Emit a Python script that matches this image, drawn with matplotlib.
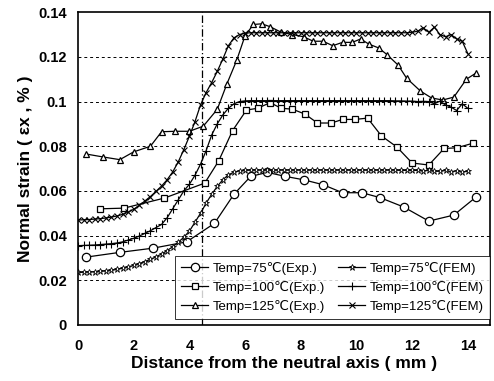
import matplotlib
matplotlib.use("Agg")
import matplotlib.pyplot as plt

plt.rcParams['font.family'] = ['Liberation Sans', 'DejaVu Sans']

# ---------------- data ----------------
x_exp75 = [0.3, 1.5, 2.7, 3.9, 4.9, 5.6, 6.2, 6.8, 7.45, 8.1, 8.8, 9.5, 10.2, 10.85, 11.7, 12.6, 13.5, 14.3]
y_exp75 = [0.0304, 0.0325, 0.0344, 0.0372, 0.0455, 0.0585, 0.0665, 0.0683, 0.0665, 0.0650, 0.0628, 0.0592, 0.0592, 0.0570, 0.0528, 0.0465, 0.0492, 0.0573]

x_exp100 = [0.8, 1.65, 3.1, 4.55, 5.05, 5.55, 6.05, 6.45, 6.9, 7.3, 7.7, 8.15, 8.6, 9.1, 9.5, 9.95, 10.4, 10.9, 11.45, 12.0, 12.6, 13.15, 13.6, 14.2]
y_exp100 = [0.0520, 0.0523, 0.0568, 0.0635, 0.0734, 0.0870, 0.0962, 0.0970, 0.0995, 0.0970, 0.0966, 0.0944, 0.0904, 0.0904, 0.0920, 0.0920, 0.0926, 0.0846, 0.0797, 0.0725, 0.0716, 0.0790, 0.0793, 0.0814]

x_exp125 = [0.3, 0.9, 1.5, 2.0, 2.6, 3.0, 3.5, 4.0, 4.5, 5.0, 5.35, 5.7, 6.0, 6.3, 6.6, 6.9, 7.3, 7.7, 8.1, 8.45, 8.8, 9.15, 9.5, 9.85, 10.15, 10.45, 10.8, 11.1, 11.5, 11.8, 12.3, 12.7, 13.1, 13.5, 13.95, 14.3]
y_exp125 = [0.0765, 0.0752, 0.0740, 0.0775, 0.0800, 0.0865, 0.0867, 0.0867, 0.0890, 0.0965, 0.1080, 0.1185, 0.1295, 0.1345, 0.1348, 0.1335, 0.1310, 0.1300, 0.1290, 0.1270, 0.1270, 0.1250, 0.1265, 0.1265, 0.1280, 0.1257, 0.1240, 0.1210, 0.1163, 0.1105, 0.1047, 0.1016, 0.1007, 0.1020, 0.1100, 0.1128]

x_fem = [0.0, 0.2, 0.4, 0.6, 0.8, 1.0, 1.2, 1.4, 1.6, 1.8,
         2.0, 2.2, 2.4, 2.6, 2.8, 3.0, 3.2, 3.4, 3.6, 3.8,
         4.0, 4.2, 4.4, 4.6, 4.8, 5.0, 5.2, 5.4, 5.6, 5.8,
         6.0, 6.2, 6.4, 6.6, 6.8, 7.0, 7.2, 7.4, 7.6, 7.8,
         8.0, 8.2, 8.4, 8.6, 8.8, 9.0, 9.2, 9.4, 9.6, 9.8,
         10.0, 10.2, 10.4, 10.6, 10.8, 11.0, 11.2, 11.4, 11.6, 11.8,
         12.0, 12.2, 12.4, 12.6, 12.8, 13.0, 13.2, 13.4, 13.6, 13.8,
         14.0]

y_fem75 = [0.0235, 0.0236, 0.0237, 0.0238, 0.0240, 0.0242, 0.0245, 0.0249, 0.0254, 0.0260,
           0.0267, 0.0275, 0.0284, 0.0294, 0.0305, 0.0318, 0.0333, 0.0350, 0.0370, 0.0393,
           0.0420, 0.0460, 0.0500, 0.0545, 0.0585, 0.0620, 0.0650, 0.0672, 0.0684, 0.0690,
           0.0692, 0.0693, 0.0693, 0.0693, 0.0693, 0.0693, 0.0693, 0.0693, 0.0693, 0.0693,
           0.0693, 0.0693, 0.0693, 0.0693, 0.0693, 0.0693, 0.0693, 0.0693, 0.0693, 0.0693,
           0.0693, 0.0693, 0.0693, 0.0693, 0.0693, 0.0693, 0.0693, 0.0693, 0.0692, 0.0692,
           0.0692, 0.0692, 0.0690, 0.0692, 0.0688, 0.0688, 0.0692, 0.0686, 0.0690, 0.0685,
           0.0688]

y_fem100 = [0.0355, 0.0356, 0.0357, 0.0358, 0.0360, 0.0362, 0.0364, 0.0367, 0.0372, 0.0380,
            0.0388, 0.0398, 0.0410, 0.0422, 0.0436, 0.0450, 0.0480, 0.0520, 0.0560, 0.0600,
            0.0630, 0.0670, 0.0720, 0.0780, 0.0850, 0.0900, 0.0940, 0.0970, 0.0990, 0.1000,
            0.1003, 0.1004, 0.1004, 0.1004, 0.1004, 0.1004, 0.1004, 0.1004, 0.1004, 0.1004,
            0.1004, 0.1004, 0.1004, 0.1004, 0.1004, 0.1004, 0.1004, 0.1004, 0.1004, 0.1004,
            0.1004, 0.1004, 0.1004, 0.1004, 0.1004, 0.1004, 0.1004, 0.1003, 0.1003, 0.1002,
            0.1002, 0.1000, 0.1001, 0.1000, 0.0990, 0.1002, 0.0985, 0.0975, 0.0960, 0.0990,
            0.0970]

y_fem125 = [0.0470, 0.0471, 0.0472, 0.0474, 0.0476, 0.0479, 0.0483, 0.0488, 0.0495, 0.0505,
            0.0518, 0.0535, 0.0555, 0.0575, 0.0598, 0.0622, 0.0650, 0.0685, 0.0730, 0.0785,
            0.0845, 0.0910, 0.0985, 0.1040, 0.1085, 0.1135, 0.1190, 0.1250, 0.1285, 0.1300,
            0.1306, 0.1308, 0.1308, 0.1308, 0.1308, 0.1308, 0.1308, 0.1308, 0.1308, 0.1308,
            0.1308, 0.1308, 0.1308, 0.1308, 0.1308, 0.1308, 0.1308, 0.1308, 0.1308, 0.1308,
            0.1308, 0.1308, 0.1308, 0.1308, 0.1308, 0.1308, 0.1308, 0.1308, 0.1308, 0.1308,
            0.1310, 0.1315, 0.1330, 0.1310, 0.1333, 0.1300, 0.1290, 0.1300, 0.1280, 0.1270,
            0.1215]

x_ticks = [0, 2, 4, 6, 8, 10, 12, 14]
y_ticks = [0, 0.02, 0.04, 0.06, 0.08, 0.1, 0.12, 0.14]
y_ticklabels = ["0", "0.02", "0.04", "0.06", "0.08", "0.1", "0.12", "0.14"]
x_ref = 4.45

labels = ["Temp=75℃(Exp.)", "Temp=100℃(Exp.)", "Temp=125℃(Exp.)",
          "Temp=75℃(FEM)", "Temp=100℃(FEM)", "Temp=125℃(FEM)"]

# ---------------- plot ----------------
fig = plt.figure(figsize=(4.94, 3.81), dpi=100)
ax = fig.add_axes([0.158, 0.147, 0.834, 0.821])

# grid
for yv in y_ticks[1:-1]:
    ax.axhline(yv, color='black', lw=0.7, ls=(0, (3, 3)), zorder=0)
ax.axvline(x_ref, color='black', lw=0.9, ls=(0, (6, 2, 1, 2)), zorder=0)

k = dict(color='black', lw=0.9)
h1, = ax.plot(x_exp75, y_exp75, marker='o', ms=6, mfc='white', mec='black', mew=0.9, label=labels[0], **k)
h2, = ax.plot(x_exp100, y_exp100, marker='s', ms=5, mfc='white', mec='black', mew=0.9, label=labels[1], **k)
h3, = ax.plot(x_exp125, y_exp125, marker='^', ms=5, mfc='white', mec='black', mew=0.9, label=labels[2], **k)
h4, = ax.plot(x_fem, y_fem75, marker='*', ms=5, mfc='white', mec='black', mew=0.6, label=labels[3], **k)
h5, = ax.plot(x_fem, y_fem100, marker='+', ms=6, mec='black', mew=0.8, label=labels[4], **k)
h6, = ax.plot(x_fem, y_fem125, marker='x', ms=5, mec='black', mew=0.8, label=labels[5], **k)

ax.set_xlim(0, 14.8)
ax.set_ylim(0, 0.14)
ax.set_xticks(x_ticks)
ax.set_yticks(y_ticks)
ax.set_yticklabels(y_ticklabels)
ax.tick_params(direction='in', length=0, labelsize=10.5, pad=8)
for t in ax.get_xticklabels() + ax.get_yticklabels():
    t.set_fontweight('bold')
ax.tick_params(axis='x', pad=10)

for s in ax.spines.values():
    s.set_linewidth(1.2)

ax.set_xlabel("Distance from the neutral axis ( mm )", fontsize=12.5, fontweight='bold', labelpad=2)
ax.set_ylabel("Normal strain ( εx , % )", fontsize=12.5, fontweight='bold', labelpad=4)

leg = ax.legend(handles=[h1, h2, h3, h4, h5, h6], ncol=2, loc='lower right',
                bbox_to_anchor=(1.0, 0.02), fontsize=9.5, frameon=True, fancybox=False,
                handlelength=2.0, handletextpad=0.4, columnspacing=1.0,
                labelspacing=0.45, borderpad=0.45, borderaxespad=0.0)
leg.get_frame().set_edgecolor('black')
leg.get_frame().set_linewidth(0.7)

fig.savefig("out.png", dpi=100)
